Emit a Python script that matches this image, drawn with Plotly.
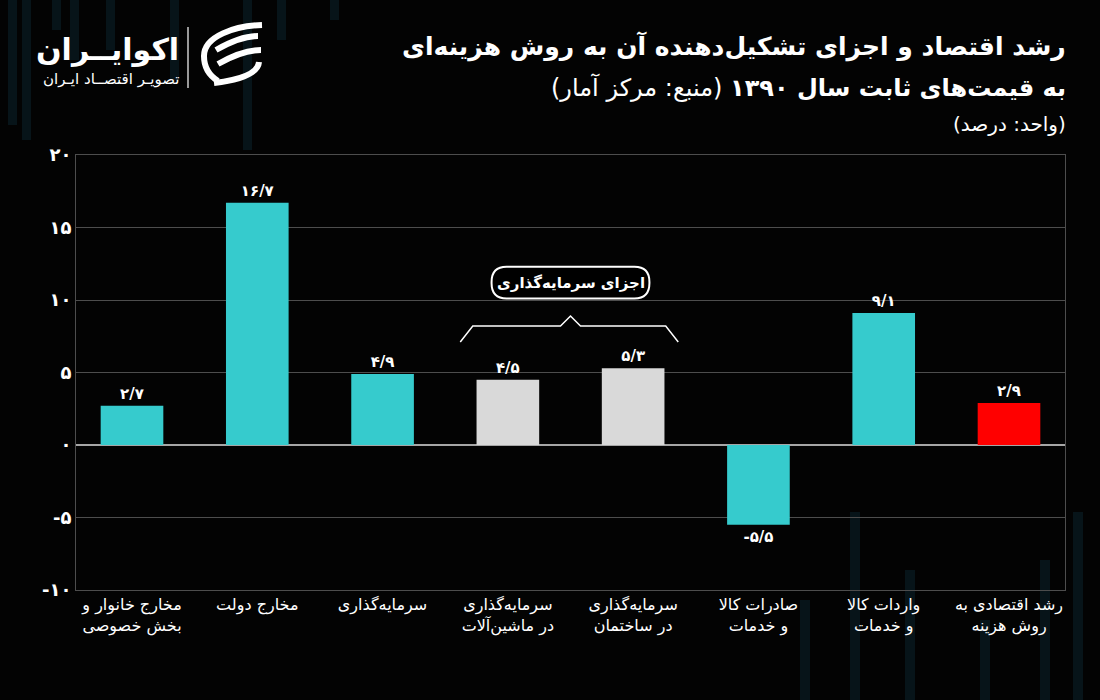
import plotly.graph_objects as go

# ---------------- data ----------------
categories = [
    "مخارج خانوار و<br>بخش خصوصی",
    "مخارج دولت",
    "سرمایه‌گذاری",
    "سرمایه‌گذاری<br>در ماشین‌آلات",
    "سرمایه‌گذاری<br>در ساختمان",
    "صادرات کالا<br>و خدمات",
    "واردات کالا<br>و خدمات",
    "رشد اقتصادی به<br>روش هزینه",
]
values = [2.7, 16.7, 4.9, 4.5, 5.3, -5.5, 9.1, 2.9]
bar_colors = ["#36CBCD", "#36CBCD", "#36CBCD", "#D9D9D9", "#D9D9D9",
              "#36CBCD", "#36CBCD", "#FF0000"]
y_tickvals = [-10, -5, 0, 5, 10, 15, 20]
y_ticktext = ["-۱۰", "-۵", "۰", "۵", "۱۰", "۱۵", "۲۰"]
group_label = "اجزای سرمایه‌گذاری"
group_members = [3, 4]

FA = str.maketrans("0123456789.", "۰۱۲۳۴۵۶۷۸۹/")


def fa(v):
    return f"{v:.1f}".translate(FA)


FONT = "DejaVu Sans"
W, H = 1100, 700
L, R, T, B = 76, 35, 155, 110
PW, PH = W - L - R, H - T - B


def px(x):
    return (x - L) / PW


def py(y):
    return (H - B - y) / PH


xs = list(range(len(categories)))

fig = go.Figure()
fig.add_trace(go.Bar(
    x=xs, y=values, width=0.5,
    marker=dict(color=bar_colors, line=dict(width=0)),
    text=["<b>" + fa(v) + "</b>" for v in values], textposition="outside",
    textfont=dict(family=FONT, size=15, color="white"),
    cliponaxis=False, hoverinfo="skip",
))

shapes = []
# faint decorative background bars
deco = [(8, 0, 125), (22, 0, 140), (52, 0, 30), (70, 0, 60), (106, 0, 50),
        (170, 0, 80), (243, 0, 150), (277, 0, 40), (330, 0, 20)]
for x0, y0, y1 in deco:
    shapes.append(dict(type="rect", xref="paper", yref="paper", layer="below",
                       x0=px(x0), x1=px(x0 + 9), y0=py(y0), y1=py(y1),
                       fillcolor="#071419", line=dict(width=0)))
deco2 = [(850, 512), (1073, 512), (1040, 560), (905, 570), (800, 600), (980, 620)]
for x0, y0 in deco2:
    shapes.append(dict(type="rect", xref="paper", yref="paper", layer="below",
                       x0=px(x0), x1=px(x0 + 10), y0=py(y0), y1=py(700),
                       fillcolor="#071419", line=dict(width=0)))

# bracket over investment components
a, b = group_members
xl, xr, xm = a - 0.38, b + 0.36, (a + b) / 2
shapes.append(dict(type="path", xref="x", yref="y",
                   path=f"M {xl},7.1 L {xl+0.1},8.2 L {xm-0.08},8.2 L {xm},8.9 "
                        f"L {xm+0.08},8.2 L {xr-0.1},8.2 L {xr},7.1",
                   line=dict(color="white", width=1.5)))
# pill-shaped box
bx0, bx1, by0, by1, rx, ry = xm - 0.63, xm + 0.63, 10.1, 12.3, 0.12, 1.05
shapes.append(dict(type="path", xref="x", yref="y",
                   path=(f"M {bx0+rx},{by1} L {bx1-rx},{by1} Q {bx1},{by1} {bx1},{by1-ry} "
                         f"L {bx1},{by0+ry} Q {bx1},{by0} {bx1-rx},{by0} "
                         f"L {bx0+rx},{by0} Q {bx0},{by0} {bx0},{by0+ry} "
                         f"L {bx0},{by1-ry} Q {bx0},{by1} {bx0+rx},{by1} Z"),
                   fillcolor="black", line=dict(color="white", width=2)))

# logo separator
shapes.append(dict(type="line", xref="paper", yref="paper",
                   x0=px(188), x1=px(188), y0=py(27), y1=py(88),
                   line=dict(color="white", width=1.2)))


def pth(pts):
    out = []
    for cmd, coords in pts:
        out.append(cmd + " " + " ".join(f"{px(x):.5f},{py(y):.5f}" for x, y in coords))
    return " ".join(out)


# logo icon (stylised swirl of stripes)
icon_paths = [
    [("M", [(262, 25)]), ("C", [(235, 26), (204, 36), (204, 56)]),
     ("C", [(204, 68), (210, 76), (218, 81)])],
    [("M", [(216, 50)]), ("C", [(230, 42), (245, 36), (258, 36)])],
    [("M", [(218, 64)]), ("C", [(232, 56), (248, 50), (261, 50)])],
    [("M", [(214, 83)]), ("C", [(238, 80), (258, 74), (259, 62)])],
]
for p in icon_paths:
    shapes.append(dict(type="path", xref="paper", yref="paper", path=pth(p),
                       line=dict(color="white", width=6)))

RLE, PDF = "\u202b", "\u202c"
annotations = [
    dict(xref="x", yref="y", x=xm, y=(by0 + by1) / 2, text="<b>" + group_label + "</b>",
         showarrow=False, font=dict(family=FONT, size=15, color="white")),
    dict(xref="paper", yref="paper", x=px(1068), y=py(46), xanchor="right",
         yanchor="middle", showarrow=False, align="right",
         text=RLE + "<b>رشد اقتصاد و اجزای تشکیل‌دهنده آن به روش هزینه‌ای</b>" + PDF,
         font=dict(family=FONT, size=25, color="white")),
    dict(xref="paper", yref="paper", x=px(1068), y=py(87), xanchor="right",
         yanchor="middle", showarrow=False, align="right",
         text=RLE + "<b>به قیمت‌های ثابت سال ۱۳۹۰</b> (منبع: مرکز آمار)" + PDF,
         font=dict(family=FONT, size=24, color="white")),
    dict(xref="paper", yref="paper", x=px(1068), y=py(124), xanchor="right",
         yanchor="middle", showarrow=False, align="right",
         text=RLE + "(واحد: درصد)" + PDF,
         font=dict(family=FONT, size=20, color="white")),
    dict(xref="paper", yref="paper", x=px(181), y=py(50), xanchor="right",
         yanchor="middle", showarrow=False,
         text="<b>اکوایــران</b>", font=dict(family=FONT, size=30, color="white")),
    dict(xref="paper", yref="paper", x=px(181), y=py(79), xanchor="right",
         yanchor="middle", showarrow=False,
         text="تصویـر اقتصــاد ایـران", font=dict(family=FONT, size=15, color="white")),
]

fig.update_layout(
    width=W, height=H,
    margin=dict(l=L, r=R, t=T, b=B, autoexpand=False),
    paper_bgcolor="#030303", plot_bgcolor="#030303",
    showlegend=False, bargap=0.5,
    shapes=shapes, annotations=annotations,
    font=dict(family=FONT, color="white"),
)
fig.update_xaxes(
    range=[-0.447, len(categories) - 1 + 0.447],
    tickvals=xs, ticktext=categories, ticks="",
    tickfont=dict(family=FONT, size=16, color="white"),
    showgrid=False, showline=True, linecolor="#4d4d4d", linewidth=1,
    mirror=True, zeroline=False,
)
fig.update_yaxes(
    range=[-10, 20], tickvals=y_tickvals, ticktext=["<b>" + t + "</b>" for t in y_ticktext],
    tickfont=dict(family=FONT, size=18, color="white"), ticks="",
    showgrid=True, gridcolor="#4d4d4d", gridwidth=1,
    zeroline=True, zerolinecolor="#a6a6a6", zerolinewidth=2,
    showline=True, linecolor="#4d4d4d", linewidth=1, mirror=True,
)

fig.write_html(
    "out.html",
    config={"displayModeBar": False},
    post_script="document.body.style.margin='0';document.body.style.background='#030303';",
)
